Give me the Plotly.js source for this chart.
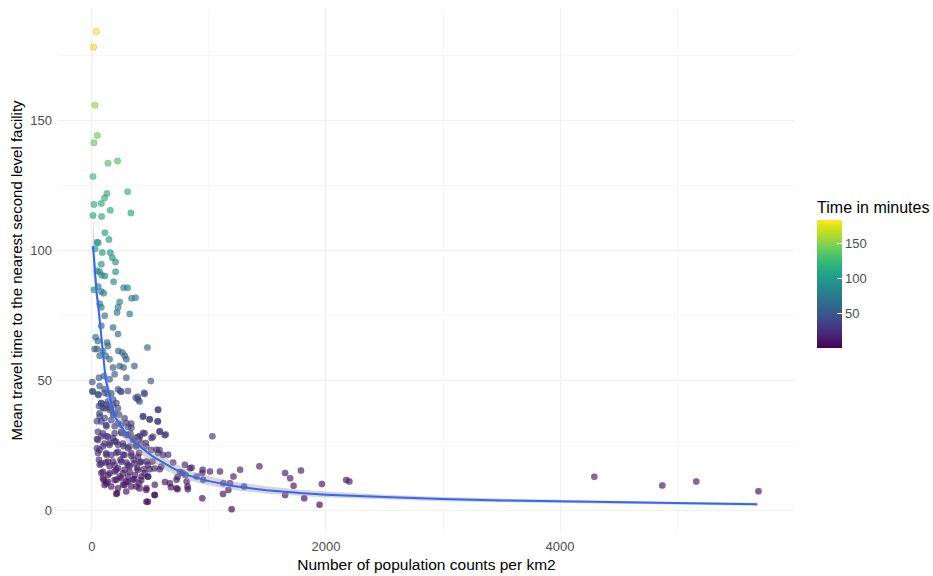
<!DOCTYPE html>
<html>
<head>
<meta charset="utf-8">
<script src="https://cdn.plot.ly/plotly-3.0.1.min.js"></script>
<style>html,body{margin:0;padding:0;background:#fff;}#chart{width:933px;height:576px;}</style>
</head>
<body>
<div id="chart"></div>
<script>
// Population density (x) and travel time (y) in groups
const popTop = [37,14,26,46,17,137,219,9,305,128,108,80,17,333,157,9,83,111,145,43,54,28,88,157,174,202,80,43,66,83,111,202,185,271,305,17,54,80,100,339,373];
const timeTop = [184,178,155.7,144,141.3,133.4,134.2,128.3,122.4,121.7,120,117.9,117.5,114.2,115.3,113.3,112.9,106.6,104,103,102.8,100.5,99,99,97,95.4,94.5,92,91.6,90.3,90,91.6,87.8,85.5,85.5,84.7,86,84,83.4,81.4,81.6];

const popMid = [
323,66,80,214,223,237,109,180,223,80,
31,51,23,43,129,137,94,117,66,151,
226,260,280,294,474,363,237,271,180,194,
103,60,151,294,503,3,66,3,51,109,
137,223,243,374,394,446,180,80,60,94,
123,151,209,566,66,109,180,231,437,494,
560,43,123,194,251,294,337,409,437,580,
631,1029,43,80,123,180,251,289,329,366,
509,403,43,94,151,194,223,271,309,380,
460,551,566,651,51,123,209,266,337,403,
60,117,180,243,294,357,409,466,517,694,
794,66,151,223,280,323,386,443,494,580,
837,946,1009,1094,1266,1431,774,894,80,137,
194,237,309,366,423,480,100,209,294,351,
403,723,666,809,951,1123,1180,1209,1300,1166,
123,223,266,380,466,537,1651,1694,1723,1786,
1651,1814,1194,943,466,537,214,723];
const timeMid = [
75.4,79.3,78,76,78,80,74.7,70.2,67.7,70.9,
66.4,65,61.9,61.9,64.4,63.1,61.2,59.3,59.3,58,
61.2,60.6,59.3,58,62.5,55.4,55.4,54.8,54.8,52.2,
51.5,50.9,50.3,50.9,49.6,49.2,47.7,45.7,44.5,46.4,
44.5,46.4,45.7,43.2,42.5,45.1,42.5,41.2,40,39.3,
40.6,39.3,41.2,38.7,36.1,35.4,36.7,36.7,36.1,34.8,
34.1,34.1,32.2,32.2,32.9,33.5,31.6,28.4,29.6,30.3,
29,28.4,27.3,28.4,28.4,27.7,29.6,29,29.4,27.7,
27.7,27.1,23.8,24.5,25.8,26.4,25.1,24.5,23.8,24.5,
25.8,23.2,21.9,21.3,21.9,21.3,21.9,21.3,20.9,21.9,
19.3,18.3,18.7,19.3,18.3,19.3,18.3,18.7,18.7,18.3,
17.4,17.4,16.8,16.1,15.5,16.8,16.1,15.7,15.7,15.7,
16.1,15.5,14.8,14.8,15.5,16.8,14.2,12.9,14.2,13.5,
14.8,12.9,12.9,13.5,12.9,12.9,11.6,11.6,11,11.6,
10.3,11.6,10.3,11,11.6,10.3,10.3,12.9,9,7.7,
10.3,8.4,9.7,9,8.4,9.7,14.2,12.2,9.3,15.2,
5.8,4.5,0.3,4.5,3.2,5.8,6.4,8.4];

const popCluster = [
8.5,57,108,165,251,308,393,450,407,80,
137,179,108,65,151,194,222,436,493,564,
564,578,621,521,80,122,165,222,279,308,
336,51,94,137,194,251,308,350,393,450,
51,108,151,208,265,322,379,421,464,507,
578,607,65,122,165,222,279,336,393,80,
137,194,251,308,364,421,478,535,592,94,
151,208,265,322,393,450,94,137,194,251,
308,364,421,478,108,165,279,336,407,464,
208,293,535,478];
const timeCluster = [
45.5,44.2,45.1,44.9,45.5,45.8,43.6,44.6,41.7,41,
41.7,40.4,39.1,37.2,38.5,37.2,39.1,35.9,34.9,34,
38.5,30.1,28.8,28.2,34,32.7,34.6,33.3,35.3,32,
33.3,30.1,29.5,28.2,29.5,30.1,28.8,26.9,28.2,29.5,
26.9,25.6,25,26.3,25.6,24.4,25,25.6,24.4,23.1,
23.1,21.2,23.1,21.8,21.2,22.4,21.2,21.8,20.5,17.9,
18.6,17.3,18.6,17.3,17.9,18.6,17.3,16,16.7,14.7,
14.1,15.4,14.1,14.7,15.4,14.1,12.2,10.9,11.5,12.2,
10.9,11.8,11.5,12.8,9.6,9,9.6,9,8.3,7.7,
6.2,7.1,5.8,3.2];

const popTail = [752,852,800,732,675,732,820,624,943,1120,817,1965,1945,2173,2200,4293,4874,5164,5696];
const timeTail = [14.6,16.3,13.5,12.7,8.8,8,8,10.8,14.2,6.2,9,10,2,11.5,11,12.8,9.4,11,7.2];

// Smoothed fit and its confidence band
const smoothX = [9,17,31,43,51,66,80,100,117,151,194,251,308,351,393,437,507,551,649,694,809,980,1209,1494,1780,2000,2500,3000,3500,4000,4500,5000,5686];
const smoothY = [101.5,96.4,90,82,80,73.5,65.7,58,50.3,44,36,32,28.5,26.5,25,23.5,21,19.8,17,16,13.5,11.3,9.2,7.6,6.5,5.9,5,4.2,3.7,3.3,3,2.6,2.2];
const bandUpper = [113,105,96,87,84.5,77.5,69.5,61.5,53.5,47,39.5,35,31.5,29.5,27.8,26.3,23.6,22.3,19.4,18.3,15.6,13.2,10.9,9.1,7.8,7.1,5.9,5.0,4.4,3.9,3.5,3.1,2.8];
const bandLower = [91,88,84,77,75.5,69.5,62,54.5,47,41,32.5,29,25.5,23.7,22.3,20.8,18.6,17.5,14.8,13.9,11.6,9.6,7.7,6.3,5.3,4.8,4.1,3.4,3.0,2.7,2.5,2.1,1.6];

const colorTicks = [50,100,150];

const popDensity = popTop.concat(popMid, popCluster, popTail);
const travelTime = timeTop.concat(timeMid, timeCluster, timeTail);

const FONT = 'Liberation Sans, Arial, sans-serif';

const points = {
  type: 'scatter', mode: 'markers',
  x: popDensity, y: travelTime,
  marker: {
    size: 6.5, opacity: 0.66,
    color: travelTime, colorscale: 'Viridis', showscale: true,
    line: {width: 0.6, color: 'rgba(40,40,40,0.35)'},
    colorbar: {
      title: {text: 'Time in minutes', side: 'top', font: {family: FONT, size: 16, color: '#000'}},
      thickness: 25, thicknessmode: 'pixels',
      len: 150, lenmode: 'pixels',
      x: 1.03, xanchor: 'left', xpad: 0,
      y: 0.495, yanchor: 'middle', ypad: 0,
      tickvals: colorTicks, ticks: 'inside', ticklen: 5, tickcolor: '#fff', tickwidth: 1,
      outlinewidth: 0,
      tickfont: {family: FONT, size: 13, color: '#4D4D4D'}
    }
  },
  hoverinfo: 'skip', showlegend: false
};
const bandLow = {
  type: 'scatter', mode: 'lines', x: smoothX, y: bandLower,
  line: {width: 0}, showlegend: false, hoverinfo: 'skip'
};
const bandHigh = {
  type: 'scatter', mode: 'lines', x: smoothX, y: bandUpper,
  line: {width: 0}, fill: 'tonexty', fillcolor: 'rgba(153,153,153,0.4)',
  showlegend: false, hoverinfo: 'skip'
};
const fit = {
  type: 'scatter', mode: 'lines', x: smoothX, y: smoothY,
  line: {color: '#3366FF', width: 2}, showlegend: false, hoverinfo: 'skip'
};

const layout = {
  width: 933, height: 576,
  margin: {l: 58, r: 138, t: 9, b: 44, autoexpand: false},
  paper_bgcolor: '#fff', plot_bgcolor: '#fff',
  font: {family: FONT},
  xaxis: {
    range: [-290, 6008], tickvals: [0, 2000, 4000], ticks: '',
    showgrid: true, gridcolor: '#EEEEEE', gridwidth: 0.9,
    minor: {dtick: 1000, tick0: 0, showgrid: true, gridcolor: '#F3F3F3', gridwidth: 0.7, ticks: ''},
    zeroline: false, showline: false, automargin: false,
    ticklabelstandoff: 5,
    tickfont: {family: FONT, size: 13, color: '#4D4D4D'},
    title: {text: 'Number of population counts per km2', font: {family: FONT, size: 15.5, color: '#000'}, standoff: 6}
  },
  yaxis: {
    range: [-8.46, 192.7], tick0: 0, dtick: 50, ticks: '',
    showgrid: true, gridcolor: '#EEEEEE', gridwidth: 0.9,
    minor: {dtick: 25, tick0: 0, showgrid: true, gridcolor: '#F3F3F3', gridwidth: 0.7, ticks: ''},
    zeroline: false, showline: false, automargin: false,
    ticklabelstandoff: 5,
    tickfont: {family: FONT, size: 13, color: '#4D4D4D'},
    title: {text: 'Mean travel time to the nearest second level facility', font: {family: FONT, size: 15, color: '#000'}, standoff: 4}
  }
};

Plotly.newPlot('chart', [points, bandLow, bandHigh, fit], layout, {displayModeBar: false, staticPlot: true});
</script>
</body>
</html>
